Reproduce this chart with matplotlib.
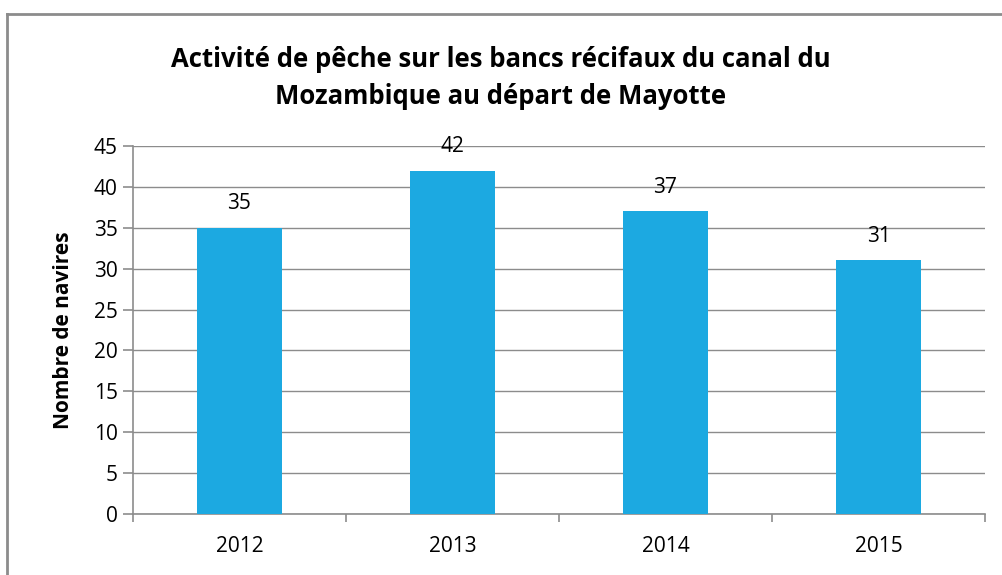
import matplotlib
matplotlib.use('Agg')
import matplotlib.pyplot as plt
from matplotlib.lines import Line2D

years = ['2012', '2013', '2014', '2015']
navires = [35, 42, 37, 31]

plt.rcParams['font.family'] = ['Open Sans', 'DejaVu Sans']

fig = plt.figure(figsize=(10.02, 5.75), dpi=100)
ax = fig.add_axes([133 / 1002, 1 - 514 / 575, (985 - 133) / 1002, (514 - 146) / 575])

# chart frame (left and top edges visible)
fig.add_artist(Line2D([7 / 1002, 7 / 1002], [0, 1 - 14 / 575], color='#8c8c8c', lw=2))
fig.add_artist(Line2D([7 / 1002, 1], [1 - 14 / 575, 1 - 14 / 575], color='#8c8c8c', lw=2))

x = list(range(len(years)))
ax.bar(x, navires, width=0.4, color='#1ca9e1', zorder=3)
for xi, v in zip(x, navires):
    ax.annotate(str(v), (xi, v), xytext=(0, 10), textcoords='offset points',
                ha='center', va='bottom', fontsize=15)

ax.set_xlim(-0.5, len(years) - 0.5)
ax.set_ylim(0, 45)
ax.set_yticks(range(0, 46, 5))
ax.yaxis.grid(True, color='#8c8c8c', lw=1)
ax.set_axisbelow(True)
ax.set_xticks(x)
ax.set_xticklabels(years)
ax.set_xticks([i - 0.5 for i in range(len(years) + 1)], minor=True)
ax.tick_params(axis='x', which='major', length=0, pad=16, labelsize=15)
ax.tick_params(axis='x', which='minor', length=6, color='#8c8c8c', width=1.2, direction='out')
ax.tick_params(axis='y', length=7, color='#8c8c8c', width=1.2, pad=4, labelsize=15)
for side in ['top', 'right']:
    ax.spines[side].set_visible(False)
for side in ['left', 'bottom']:
    ax.spines[side].set_color('#8c8c8c')
    ax.spines[side].set_linewidth(1.2)

ax.set_ylabel('Nombre de navires', fontsize=15, fontweight='bold', labelpad=14)
fig.text(0.5, 1 - 78 / 575, 'Activité de pêche sur les bancs récifaux du canal du\nMozambique au départ de Mayotte',
         ha='center', va='center', fontsize=18.5, fontweight='bold', linespacing=1.45)

fig.savefig('out.png', dpi=100)
